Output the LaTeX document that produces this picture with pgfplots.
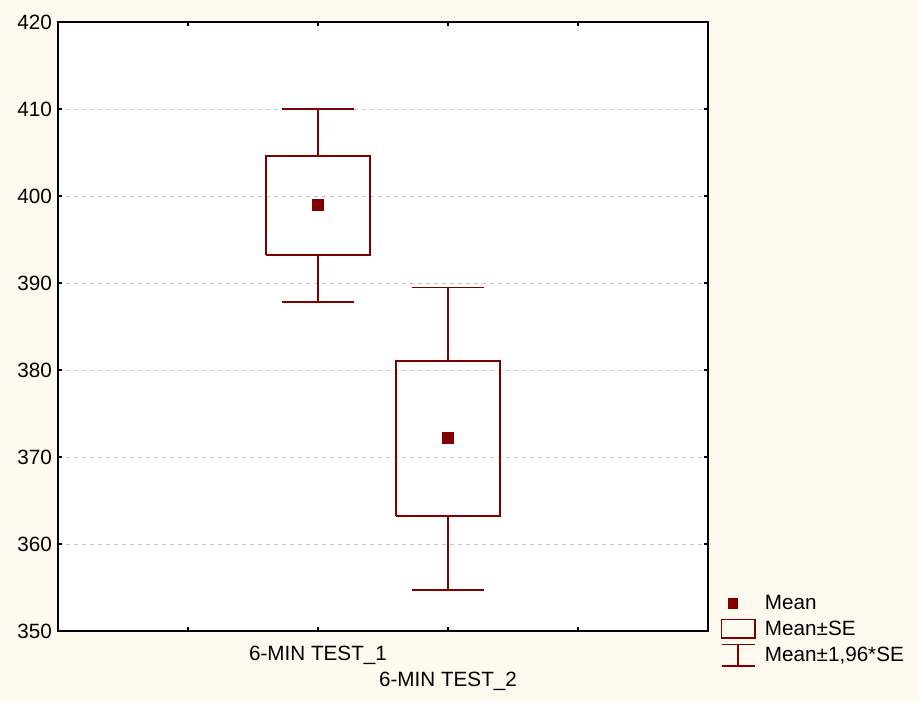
\documentclass[border=0pt]{standalone}
\usepackage{pgfplots}
\pgfplotsset{compat=1.18}
\usepackage{fontspec}
\setmainfont{Liberation Sans}
\definecolor{darkred}{HTML}{800000}
\definecolor{cream}{HTML}{FFFAEF}
\begin{document}
\begin{tikzpicture}
% whole page, 1px = 0.75pt
\fill[cream] (0,0) rectangle (689.25pt,526.5pt);
\begin{axis}[
  at={(43.5pt,53.25pt)}, anchor=south west,
  scale only axis, width=487.5pt, height=456.75pt,
  axis background/.style={fill=white},
  axis line style={line width=1.1pt},
  font=\fontsize{15.5}{18}\selectfont,
  /pgf/number format/assume math mode=true,
  xmin=0, xmax=5, ymin=350, ymax=420,
  xtick={1,2,4}, xticklabels={,6-MIN TEST\_1,},
  extra x ticks={3}, extra x tick labels={6-MIN TEST\_2},
  extra x tick style={xticklabel style={yshift=-19.5pt}},
  ytick={350,360,...,420},
  tick align=inside, major tick length=3pt,
  tick style={black, line width=0.8pt},
  ymajorgrids, grid style={gray!45, dashed, line width=0.4pt},
  xticklabel style={yshift=-8pt},
  yticklabel style={xshift=-1pt},
  legend style={at={(1.013,0.068)}, anchor=north west, draw=none, fill=none,
    font=\fontsize{15.5}{18}\selectfont, row sep=3pt,
    /tikz/every odd column/.append style={column sep=5pt}},
  legend cell align=left,
  unbounded coords=jump,
]
\addlegendimage{only marks, mark=square*, mark size=3.6pt, darkred}
\addlegendentry{Mean}
\addlegendimage{legend image code/.code={\draw[darkred, line width=1.2pt] (0pt,-7pt) rectangle (25pt,7pt);}}
\addlegendentry{Mean±SE}
\addlegendimage{legend image code/.code={\draw[darkred, line width=1.2pt] (0pt,-8pt)--(25pt,-8pt) (12.5pt,-8pt)--(12.5pt,8pt) (0pt,8pt)--(25pt,8pt);}}
\addlegendentry{Mean±1,96*SE}

% Mean +- SE boxes
\addplot[darkred, line width=1.2pt, forget plot] coordinates {
  (1.6,393.2) (2.4,393.2) (2.4,404.6) (1.6,404.6) (1.6,393.2)
  (nan,nan)
  (2.6,363.2) (3.4,363.2) (3.4,381.0) (2.6,381.0) (2.6,363.2)
};
% Mean +- 1.96 SE whiskers
\addplot[darkred, line width=1.2pt, forget plot] coordinates {
  (2,404.6) (2,410.0) (nan,nan) (1.72,410.0) (2.28,410.0) (nan,nan)
  (2,393.2) (2,387.8) (nan,nan) (1.72,387.8) (2.28,387.8) (nan,nan)
  (3,381.0) (3,389.5) (nan,nan) (2.72,389.5) (3.28,389.5) (nan,nan)
  (3,363.2) (3,354.7) (nan,nan) (2.72,354.7) (3.28,354.7)
};
% Means
\addplot[only marks, mark=square*, mark size=4pt, darkred, forget plot]
  coordinates {(2,399.0) (3,372.2)};
\end{axis}
\end{tikzpicture}
\end{document}
